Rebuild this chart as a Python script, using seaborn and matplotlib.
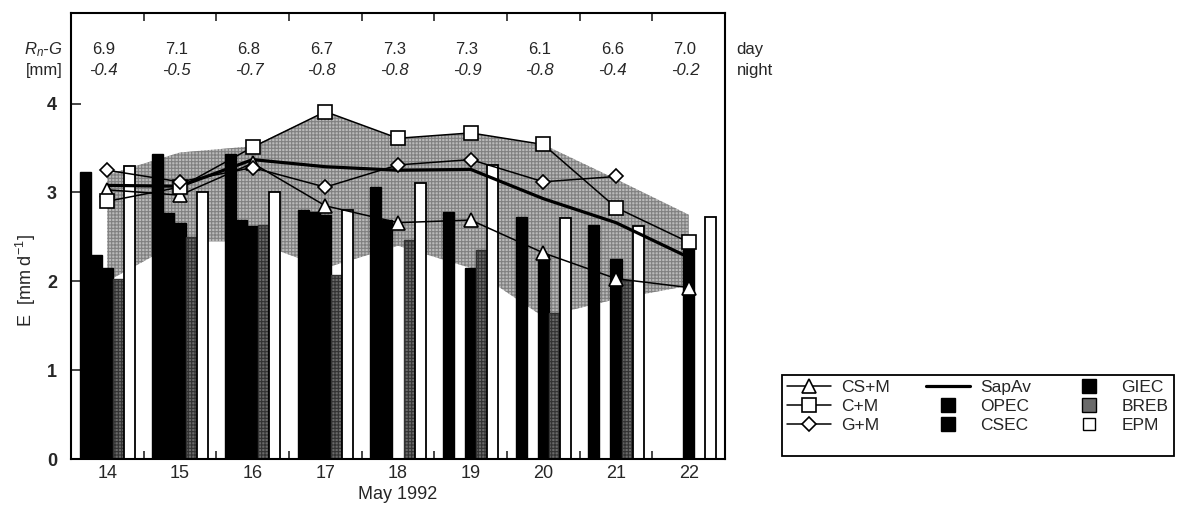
import numpy as np
import pandas as pd
import seaborn as sns
import matplotlib.pyplot as plt
from matplotlib.lines import Line2D

# days of May 1992
days = [14, 15, 16, 17, 18, 19, 20, 21, 22]

# available energy Rn-G [mm], day and night
rng_day = [6.9, 7.1, 6.8, 6.7, 7.3, 7.3, 6.1, 6.6, 7.0]
rng_night = [-0.4, -0.5, -0.7, -0.8, -0.8, -0.9, -0.8, -0.4, -0.2]

# measured E (bars), mm/d, nan = no data
opec = [3.23, 3.43, 3.43, 2.80, 3.06, 2.78, 2.72, 2.63, np.nan]
csec = [2.30, 2.77, 2.69, 2.78, 2.69, np.nan, np.nan, np.nan, np.nan]
giec = [2.15, 2.66, 2.62, 2.75, np.nan, 2.15, 2.30, 2.25, 2.40]
breb = [2.03, 2.50, 2.63, 2.07, 2.47, 2.35, 1.64, 2.02, np.nan]
epm = [3.30, 3.00, 3.00, 2.80, 3.11, 3.31, 2.71, 2.62, 2.72]

# modelled E (lines)
cs_m = [3.03, 2.97, 3.33, 2.85, 2.66, 2.69, 2.32, 2.03, 1.93]
c_m = [2.90, 3.06, 3.51, 3.91, 3.61, 3.67, 3.54, 2.83, 2.44]
g_m = [3.25, 3.12, 3.28, 3.06, 3.31, 3.37, 3.12, 3.18, np.nan]
sapav = [3.08, 3.07, 3.37, 3.29, 3.25, 3.26, 2.93, 2.66, 2.27]

# shaded range
band_up = [3.20, 3.45, 3.52, 3.91, 3.61, 3.67, 3.54, 3.15, 2.75]
band_low = [2.00, 2.45, 2.45, 2.15, 2.40, 2.15, 1.60, 1.80, 1.95]

bar_names = ['OPEC', 'CSEC', 'GIEC', 'BREB', 'EPM']
bar_cols = {'OPEC': 'black', 'CSEC': 'black', 'GIEC': 'black',
            'BREB': '#6a6a6a', 'EPM': 'white'}

bars = pd.DataFrame({'day': days * 5,
                     'method': np.repeat(bar_names, len(days)),
                     'E': opec + csec + giec + breb + epm}).dropna()

sns.set_style('ticks')
plt.rcParams['font.family'] = ['Liberation Sans Narrow', 'Liberation Sans', 'DejaVu Sans']
plt.rcParams['mathtext.fontset'] = 'custom'
plt.rcParams['mathtext.rm'] = 'Liberation Sans'
plt.rcParams['mathtext.it'] = 'Liberation Sans:italic'
plt.rcParams['hatch.linewidth'] = 0.8

fig, ax = plt.subplots(figsize=(11.87, 5.12), dpi=100)
fig.subplots_adjust(left=0.0598, right=0.6108, bottom=0.1035, top=0.9746)

# shaded band behind the bars
ax.fill_between(days, band_low, band_up, facecolor='#bababa', edgecolor='#808080',
                hatch='+' * 5, linewidth=0, zorder=1)

sns.barplot(data=bars, x='day', y='E', hue='method', hue_order=bar_names,
            palette=bar_cols, native_scale=True, width=0.76, errorbar=None,
            edgecolor='black', linewidth=1.0, legend=False, ax=ax, zorder=2)

for cont, name in zip(ax.containers, bar_names):
    for p in cont:
        if name == 'BREB':
            p.set_hatch('+' * 5)
            p.set_edgecolor('#333333')
        if name == 'EPM':
            p.set_linewidth(1.3)

# model lines
sns.lineplot(x=days, y=sapav, color='black', linewidth=2.3, ax=ax, zorder=4)
for vals, mk, ms in [(cs_m, '^', 10), (c_m, 's', 10), (g_m, 'D', 7.5)]:
    sns.lineplot(x=days, y=vals, color='black', linewidth=1.1, marker=mk,
                 markersize=ms, markerfacecolor='white', markeredgecolor='black',
                 markeredgewidth=1.2, ax=ax, zorder=5)

ax.set_xlim(13.5, 22.5)
ax.set_ylim(0, 5.02)
ax.set_xticks(days)
ax.set_xticklabels([str(d) for d in days])
ax.set_xticks(np.arange(14.5, 22, 1), minor=True)
ax.set_yticks([0, 1, 2, 3, 4])
ax.tick_params(axis='x', which='major', length=0, labelsize=13, pad=4)
ax.tick_params(axis='x', which='minor', direction='in', length=6, width=1.2,
               top=True, bottom=True)
ax.tick_params(axis='y', direction='in', length=7, width=1.2, labelsize=13,
               left=True, right=False, pad=10)
for lab in ax.get_yticklabels():
    lab.set_fontweight('bold')
for s in ax.spines.values():
    s.set_linewidth(1.5)
    s.set_color('black')

ax.set_xlabel('May 1992', fontsize=13, labelpad=3)
ax.set_ylabel('E  [mm d$^{-1}$]', fontsize=13)
ax.yaxis.set_label_coords(-0.050, 0.4)

# Rn-G row on top
for d, v1, v2 in zip(days, rng_day, rng_night):
    ax.text(d - 0.05, 4.61, f'{v1:.1f}', ha='center', va='center', fontsize=12)
    ax.text(d - 0.05, 4.37, f'{v2:.1f}', ha='center', va='center', fontsize=12,
            style='italic')
ax.text(13.38, 4.61, '$R_n$-$G$', ha='right', va='center', fontsize=12,
        style='italic', clip_on=False)
ax.text(13.38, 4.37, '[mm]', ha='right', va='center', fontsize=12, clip_on=False)
ax.text(22.66, 4.61, 'day', ha='left', va='center', fontsize=12, clip_on=False)
ax.text(22.66, 4.37, 'night', ha='left', va='center', fontsize=12, clip_on=False)

# legend
blank = Line2D([], [], linestyle='none')
def mline(mk, ms):
    return Line2D([], [], color='black', linewidth=1.1, marker=mk, markersize=ms,
                  markerfacecolor='white', markeredgecolor='black', markeredgewidth=1.2)
def msq(fc, ms=10):
    return Line2D([], [], linestyle='none', marker='s', markersize=ms,
                  markerfacecolor=fc, markeredgecolor='black')

handles = [mline('^', 10), mline('s', 10), mline('D', 7.5), blank,
           Line2D([], [], color='black', linewidth=2.3), msq('black'), msq('black'), blank,
           msq('black'), msq('#6a6a6a'), msq('white', 9), blank]
labels = ['CS+M', 'C+M', 'G+M', '', 'SapAv', 'OPEC', 'CSEC', '',
          'GIEC', 'BREB', 'EPM', '']
leg = fig.legend(handles, labels, ncol=3, loc='upper left',
                 bbox_to_anchor=(782 / 1187, 1 - 375 / 512), frameon=True,
                 fancybox=False, edgecolor='black', framealpha=1, fontsize=12.5,
                 handlelength=2.5, handletextpad=0.6, columnspacing=2.1,
                 labelspacing=0.2, borderpad=0.3, borderaxespad=0)
leg.get_frame().set_linewidth(1.3)

fig.savefig('out.png', dpi=100)
